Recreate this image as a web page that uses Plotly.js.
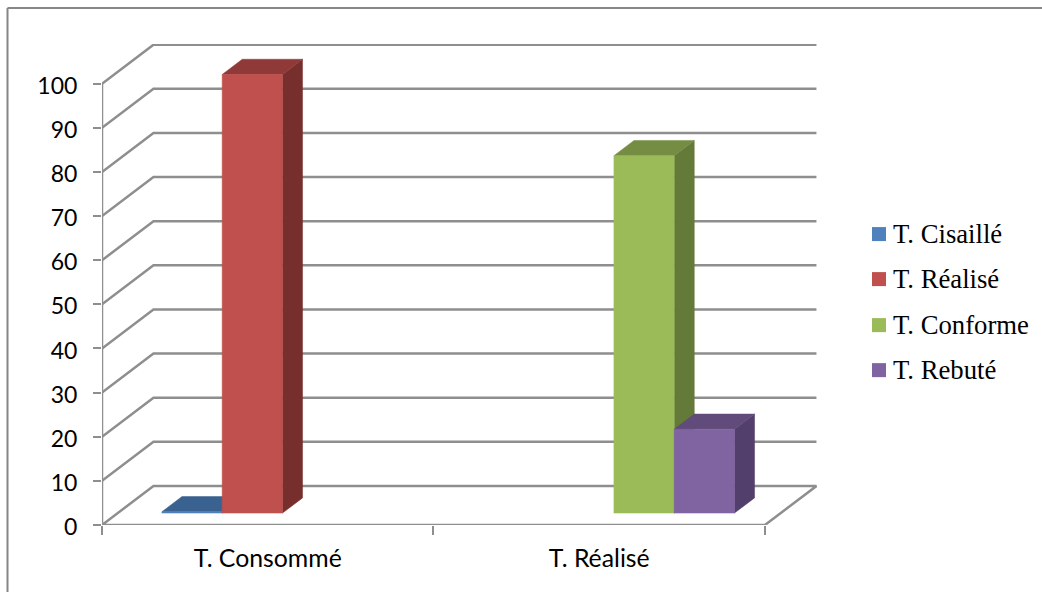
<!DOCTYPE html>
<html lang="fr">
<head>
<meta charset="utf-8">
<title>T. Consommé / T. Réalisé</title>
<script src="https://cdn.plot.ly/plotly-3.0.1.min.js"></script>
<style>html,body{margin:0;padding:0;background:#fff}#chart{width:1042px;height:592px}</style>
</head>
<body>
<div id="chart"></div>
<script>
// Chart values
const categories = ['T. Consommé', 'T. Réalisé'];
const seriesNames = ['T. Cisaillé', 'T. Réalisé', 'T. Conforme', 'T. Rebuté'];
const cisaille = [0.3, null];
const realise = [99.4, null];
const conforme = [null, 81];
const rebute = [null, 19];
const tickValues = [0, 10, 20, 30, 40, 50, 60, 70, 80, 90, 100];

// Colours per series: front, top and side faces of a column
const frontColors = ['#4F81BD', '#C0504D', '#9BBB59', '#8064A2'];
const topColors = ['#3A6291', '#8F3A38', '#758D43', '#604B7A'];
const sideColors = ['#2F5078', '#772F2D', '#647A39', '#533F6B'];
const gridColor = '#8E8E8E';

// Plot box, in pixels of the 1042x592 page
const margin = {l: 102, r: 225, t: 44, b: 67.2};
const plotW = 1042 - margin.l - margin.r;
const plotH = 592 - margin.t - margin.b;
const xMax = 2.157;
const yMax = 109;

// Oblique projection of the depth axis, expressed in axis units
const depthX = 0.1553;
const depthY = 8.84;
const wall = 2.0;            // end of the back wall along x
const slot = 1 / 5.5;        // column width: four columns plus a 150% gap
const groupStart = (1 - 4 * slot) / 2 - 0.003;
const depthStart = 0.305;    // columns sit centred in the depth of the floor
const depthSize = 0.39;

function gridTrace(xs, ys) {
  return {type: 'scatter', mode: 'lines', x: xs, y: ys, cliponaxis: false,
          line: {color: gridColor, width: 2.5}, hoverinfo: 'skip', showlegend: false};
}
function faceTrace(name, xs, ys, color) {
  return {type: 'scatter', mode: 'lines', name: name, x: xs, y: ys, fill: 'toself',
          fillcolor: color, cliponaxis: false, line: {color: color, width: 0.5},
          hoverinfo: 'skip', showlegend: false};
}

const traces = [];

// Back wall, side wall and floor
tickValues.slice(1).forEach(v => {
  traces.push(gridTrace([0, depthX, wall + depthX], [v, v + depthY, v + depthY]));
});
traces.push(gridTrace(
  [0, depthX, wall + depthX, wall, 0],
  [0, depthY, depthY, 0, 0]));
traces.push(gridTrace([0, 0], [0, tickValues[tickValues.length - 1]]));

// Columns, painted from left to right so nearer faces cover earlier ones
const allSeries = [cisaille, realise, conforme, rebute];
categories.forEach((cat, c) => {
  allSeries.forEach((vals, s) => {
    const v = vals[c];
    if (v === null) return;
    const x0 = c + groupStart + s * slot + depthStart * depthX;
    const x1 = x0 + slot;
    const y0 = depthStart * depthY;
    const y1 = y0 + v;
    const dx = depthSize * depthX;
    const dy = depthSize * depthY;
    traces.push(faceTrace(seriesNames[s], [x1, x1 + dx, x1 + dx, x1, x1],
                          [y0, y0 + dy, y1 + dy, y1, y0], sideColors[s]));
    traces.push(faceTrace(seriesNames[s], [x0, x0 + dx, x1 + dx, x1, x0],
                          [y1, y1 + dy, y1 + dy, y1, y1], topColors[s]));
    traces.push(faceTrace(seriesNames[s], [x0, x1, x1, x0, x0],
                          [y0, y0, y1, y1, y0], frontColors[s]));
  });
});

// Conversions from page pixels to paper fractions, for the frame and the key
const paperX = px => (px - margin.l) / plotW;
const paperY = py => 1 - (py - margin.t) / plotH;

// Chart frame (top and left edges run to the page border)
const shapes = [
  {type: 'line', xref: 'paper', yref: 'paper', x0: paperX(7.5), x1: paperX(1042),
   y0: paperY(8), y1: paperY(8), line: {color: '#868686', width: 2}},
  {type: 'line', xref: 'paper', yref: 'paper', x0: paperX(7.5), x1: paperX(7.5),
   y0: paperY(8), y1: paperY(592), line: {color: '#868686', width: 2}}
];

// Key
const keyRows = [234, 279, 325, 370];
const annotations = [];
seriesNames.forEach((name, i) => {
  shapes.push({type: 'rect', xref: 'paper', yref: 'paper',
    x0: paperX(872), x1: paperX(886), y0: paperY(keyRows[i] - 7), y1: paperY(keyRows[i] + 7),
    fillcolor: frontColors[i], line: {width: 0}});
  annotations.push({xref: 'paper', yref: 'paper', x: paperX(892), y: paperY(keyRows[i]),
    xanchor: 'left', yanchor: 'middle', text: name, showarrow: false, borderpad: 0,
    font: {family: '"Liberation Serif", serif', size: 26.7, color: '#000'}});
});

const layout = {
  width: 1042, height: 592,
  margin: margin,
  paper_bgcolor: '#fff', plot_bgcolor: '#fff',
  showlegend: false, hovermode: false,
  xaxis: {
    range: [0, xMax], showgrid: false, zeroline: false, showline: false, fixedrange: true,
    tickmode: 'array', tickvals: categories.map((_, i) => i + 0.5), ticktext: categories,
    ticks: '', ticklabelstandoff: 16,
    tickfont: {family: 'Lato, sans-serif', size: 24.8, color: '#000'},
    minor: {tickmode: 'array', tickvals: [0, 1, 2], ticks: 'outside', ticklen: 9,
            tickwidth: 2, tickcolor: gridColor, showgrid: false}
  },
  yaxis: {
    range: [0, yMax], showgrid: false, zeroline: false, showline: false, fixedrange: true,
    tickmode: 'array', tickvals: tickValues, ticks: 'outside', ticklen: 8,
    tickwidth: 2, tickcolor: gridColor, ticklabelstandoff: 11, ticklabelshift: 2,
    tickfont: {family: 'Lato, sans-serif', size: 23, color: '#000'}
  },
  shapes: shapes,
  annotations: annotations
};

Plotly.newPlot('chart', traces, layout, {displayModeBar: false, staticPlot: true});
</script>
</body>
</html>
